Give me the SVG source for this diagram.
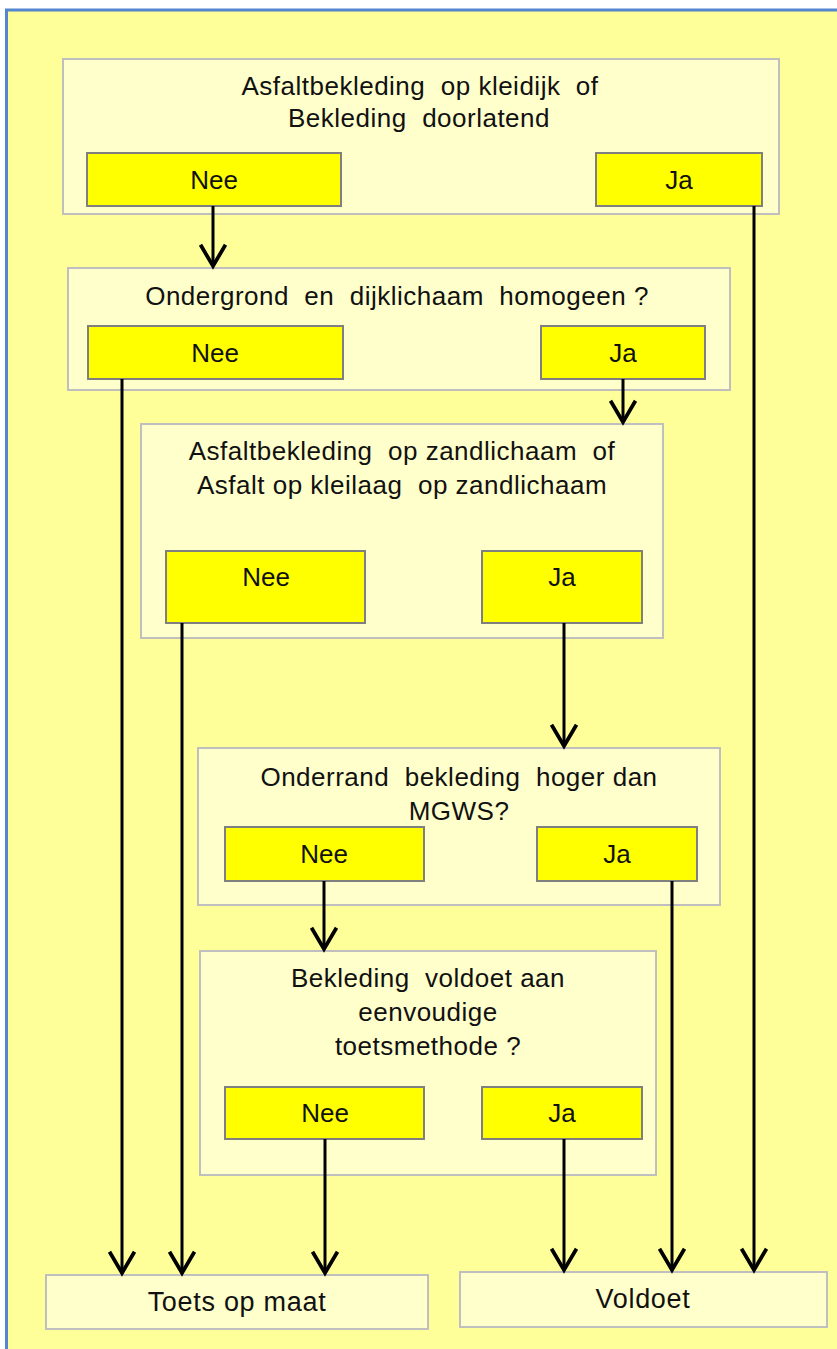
<svg xmlns="http://www.w3.org/2000/svg" width="837" height="1349" viewBox="0 0 837 1349">
<defs>
<style>
.q{fill:#FFFFCC;stroke:#BFBFBF;stroke-width:2}
.b{fill:#FFFF00;stroke:#7F7F7F;stroke-width:2}
text{font-family:"Liberation Sans",Arial,sans-serif;font-size:26px;fill:#111;text-anchor:middle;white-space:pre}
.t{letter-spacing:0.5px}
.e{font-size:27px;letter-spacing:0.7px}
.c{fill:none;stroke:#000;stroke-width:3}
</style>
<marker id="ah" markerUnits="userSpaceOnUse" orient="auto" refX="0" refY="0" markerWidth="30" markerHeight="30" viewBox="-20 -12 22 24" overflow="visible">
<path d="M-17,-10 L0,0 L-17,10" fill="none" stroke="#000" stroke-width="3" stroke-linejoin="miter"/>
</marker>
</defs>
<rect x="0" y="0" width="837" height="1349" fill="#fff"/>
<rect x="6.5" y="10" width="850" height="1360" fill="#FFFF99" stroke="#5585CF" stroke-width="3"/>

<g id="n1">
<rect class="q" x="63" y="59" width="716" height="155"/>
<text class="t" x="420" y="95">Asfaltbekleding  op kleidijk  of</text>
<text class="t" x="419" y="127">Bekleding  doorlatend</text>
<rect class="b" x="87" y="153" width="254" height="53"/>
<text x="214" y="189">Nee</text>
<rect class="b" x="596" y="153" width="166" height="53"/>
<text x="679" y="189">Ja</text>
</g>

<g id="n2">
<rect class="q" x="68" y="268" width="662" height="122"/>
<text class="t" x="397" y="305">Ondergrond  en  dijklichaam  homogeen ?</text>
<rect class="b" x="88" y="326" width="255" height="53"/>
<text x="215" y="362">Nee</text>
<rect class="b" x="541" y="326" width="164" height="53"/>
<text x="623" y="362">Ja</text>
</g>

<g id="n3">
<rect class="q" x="141" y="424" width="522" height="214"/>
<text class="t" x="402" y="460">Asfaltbekleding  op zandlichaam  of</text>
<text class="t" x="402" y="494">Asfalt op kleilaag  op zandlichaam</text>
<rect class="b" x="166" y="551" width="199" height="72"/>
<text x="266" y="586">Nee</text>
<rect class="b" x="482" y="551" width="160" height="72"/>
<text x="562" y="586">Ja</text>
</g>

<g id="n4">
<rect class="q" x="198" y="748" width="522" height="157"/>
<text class="t" x="459" y="786">Onderrand  bekleding  hoger dan</text>
<text class="t" x="459" y="820">MGWS?</text>
<rect class="b" x="225" y="827" width="199" height="54"/>
<text x="324" y="863">Nee</text>
<rect class="b" x="537" y="827" width="160" height="54"/>
<text x="617" y="863">Ja</text>
</g>

<g id="n5">
<rect class="q" x="200" y="951" width="456" height="224"/>
<text class="t" x="428" y="987">Bekleding  voldoet aan</text>
<text class="t" x="428" y="1021">eenvoudige</text>
<text class="t" x="428" y="1055">toetsmethode ?</text>
<rect class="b" x="225" y="1087" width="199" height="52"/>
<text x="325" y="1122">Nee</text>
<rect class="b" x="482" y="1087" width="160" height="52"/>
<text x="562" y="1122">Ja</text>
</g>

<g id="toets">
<rect class="q" x="46" y="1275" width="382" height="54"/>
<text class="e" x="237" y="1311">Toets op maat</text>
</g>

<g id="voldoet">
<rect class="q" x="460" y="1272" width="367" height="55"/>
<text class="e" x="643" y="1308">Voldoet</text>
</g>

<g id="connectors">
<path class="c" d="M213,206 V266" marker-end="url(#ah)"/>
<path class="c" d="M754,206 V1270" marker-end="url(#ah)"/>
<path class="c" d="M122,379 V1273" marker-end="url(#ah)"/>
<path class="c" d="M623,379 V422" marker-end="url(#ah)"/>
<path class="c" d="M182,623 V1273" marker-end="url(#ah)"/>
<path class="c" d="M564,623 V746" marker-end="url(#ah)"/>
<path class="c" d="M324,881 V949" marker-end="url(#ah)"/>
<path class="c" d="M672,881 V1270" marker-end="url(#ah)"/>
<path class="c" d="M325,1139 V1273" marker-end="url(#ah)"/>
<path class="c" d="M564,1139 V1270" marker-end="url(#ah)"/>
</g>
</svg>
